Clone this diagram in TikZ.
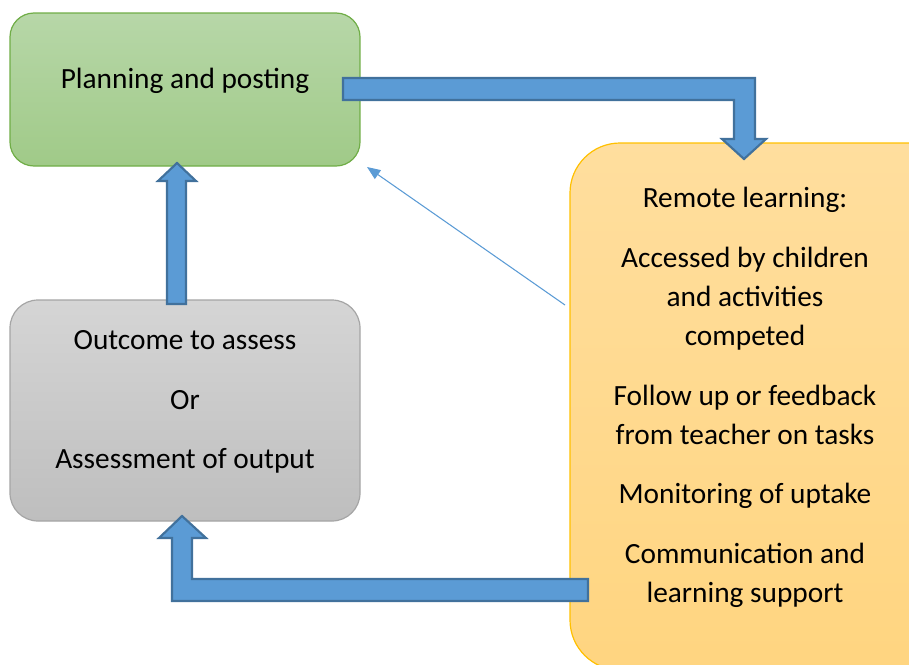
\documentclass[tikz,border=0pt]{standalone}
\usepackage{fontspec}
\setmainfont{Carlito}
\usetikzlibrary{arrows.meta}
\definecolor{greenT}{RGB}{183,215,168}
\definecolor{greenB}{RGB}{160,202,136}
\definecolor{greenD}{RGB}{112,173,71}
\definecolor{grayT}{RGB}{213,213,213}
\definecolor{grayB}{RGB}{190,190,190}
\definecolor{grayD}{RGB}{165,165,165}
\definecolor{orT}{RGB}{255,222,158}
\definecolor{orB}{RGB}{255,213,128}
\definecolor{orD}{RGB}{255,192,0}
\definecolor{arrowfill}{RGB}{91,155,213}
\definecolor{arrowdraw}{RGB}{65,113,156}
\begin{document}
\begin{tikzpicture}[x=0.75pt,y=-0.75pt,
  box/.style={rounded corners=#1, line width=0.9pt, inner sep=0pt},
  lbl/.style={anchor=base, font=\fontsize{22}{29}\selectfont, text=black, inner sep=0pt},
  blockarrow/.style={fill=arrowfill, draw=arrowdraw, line width=1.6pt, line join=miter},
  thinarrow/.style={draw=arrowfill, line width=0.8pt, -{Triangle[length=10pt,width=8pt]}}]
\useasboundingbox (0,0) rectangle (909,664);
\clip (0,0) rectangle (909,664);
% boxes
\node[box=18pt, top color=greenT, bottom color=greenB, draw=greenD,
      minimum width=262.5pt, minimum height=114.75pt] (plan) at (185,89.5) {};
\node[box=37.5pt, top color=orT, bottom color=orB, draw=orD,
      minimum width=292.5pt, minimum height=395.25pt] (remote) at (765,406.5) {};
\node[box=21pt, top color=grayT, bottom color=grayB, draw=grayD,
      minimum width=262.5pt, minimum height=165.75pt] (assess) at (185,410.5) {};
% texts
\node[lbl] (tplan) at (185,88) {Planning and posting};
\node[lbl] (ta1) at (185,349) {Outcome to assess};
\node[lbl] (ta2) at (185,409) {Or};
\node[lbl] (ta3) at (185,468) {Assessment of output};
\node[lbl] (tr1) at (745,207) {Remote learning:};
\node[lbl] (tr2) at (745,267) {Accessed by children};
\node[lbl] (tr3) at (745,306) {and activities};
\node[lbl] (tr4) at (745,345) {competed};
\node[lbl] (tr5) at (745,405) {Follow up or feedback};
\node[lbl] (tr6) at (745,444) {from teacher on tasks};
\node[lbl] (tr7) at (745,503) {Monitoring of uptake};
\node[lbl] (tr8) at (745,563) {Communication and};
\node[lbl] (tr9) at (745,602) {learning support};
% block arrows
\draw[blockarrow] (343,78) -- (755,78) -- (755,139) -- (766,139) -- (744,159)
  -- (722,139) -- (734,139) -- (734,100) -- (343,100) -- cycle;
\draw[blockarrow] (167,304) -- (167,181) -- (158,181) -- (177,163) -- (196,181)
  -- (186,181) -- (186,304) -- cycle;
\draw[blockarrow] (588,579) -- (588,601) -- (172,601) -- (172,538) -- (159,538)
  -- (182,516) -- (206,538) -- (192,538) -- (192,579) -- cycle;
% thin arrow
\coordinate (ts) at (565,305);
\coordinate (te) at (367,167);
\draw[thinarrow] (ts) -- (te);
\end{tikzpicture}
\end{document}
